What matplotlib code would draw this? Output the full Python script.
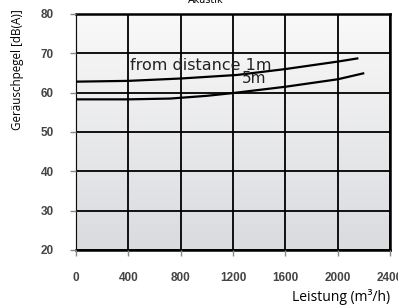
import numpy as np
import matplotlib
matplotlib.use("Agg")
import matplotlib.pyplot as plt

# curve readings (Leistung m3/h -> dB(A))
flow_1m = [0, 400, 800, 1230, 1600, 2000, 2150]
level_1m = [62.8, 63.0, 63.6, 64.5, 66.0, 67.9, 68.7]
flow_5m = [0, 400, 720, 1000, 1200, 1600, 2000, 2195]
level_5m = [58.3, 58.3, 58.5, 59.2, 59.9, 61.5, 63.4, 64.9]

xticks = [0, 400, 800, 1200, 1600, 2000, 2400]
yticks = [20, 30, 40, 50, 60, 70, 80]

fig = plt.figure(figsize=(3.98, 3.07), dpi=100)
ax = fig.add_axes([76 / 398, 57 / 307, 314 / 398, 236 / 307])

# soft grey gradient like the scanned chart
grad = np.linspace(0, 1, 100).reshape(-1, 1)
ax.imshow(grad, extent=[0, 2400, 20, 80], aspect="auto", origin="upper",
          cmap=matplotlib.colors.LinearSegmentedColormap.from_list(
              "bg", ["#f9f9f9", "#dadbdf"]), zorder=0)

ax.set_xlim(0, 2400)
ax.set_ylim(20, 80)
ax.set_xticks(xticks)
ax.set_yticks(yticks)
ax.grid(True, color="black", linewidth=1.3, zorder=1)
ax.set_axisbelow(False)

ax.plot(flow_1m, level_1m, color="black", linewidth=1.6, zorder=3)
ax.plot(flow_5m, level_5m, color="black", linewidth=1.6, zorder=3)

ax.text(955, 67.0, "from distance 1m", fontsize=11.5, ha="center", va="center",
        family="DejaVu Sans", color="#222222", zorder=4)
ax.text(1365, 63.5, "5m", fontsize=11, ha="center", va="center",
        family="DejaVu Sans", color="#222222", zorder=4)

for s in ["top", "right", "bottom"]:
    ax.spines[s].set_color("black")
    ax.spines[s].set_linewidth(1.8)
ax.spines["left"].set_color("#888888")
ax.spines["left"].set_linewidth(1.0)

ax.tick_params(axis="both", length=4, width=1, color="#888888",
               labelsize=8.5, labelcolor="#444444")
ax.tick_params(axis="y", pad=12)
ax.tick_params(axis="x", pad=12)
for lab in ax.get_xticklabels() + ax.get_yticklabels():
    lab.set_fontweight("bold")
    lab.set_family("Liberation Sans")

fig.text(18 / 398, 1 - 70 / 307, "Geräuschpegel [dB(A)]", rotation=90,
         ha="center", va="center", fontsize=8.4, family="Open Sans")
fig.text(390 / 398, 1 - 297 / 307, "Leistung (m³/h)", ha="right",
         va="center", fontsize=10, family="Open Sans")
fig.text(206 / 398, 1.0, "Akustik", ha="center", va="center", fontsize=7)

fig.savefig("out.png", dpi=100)
